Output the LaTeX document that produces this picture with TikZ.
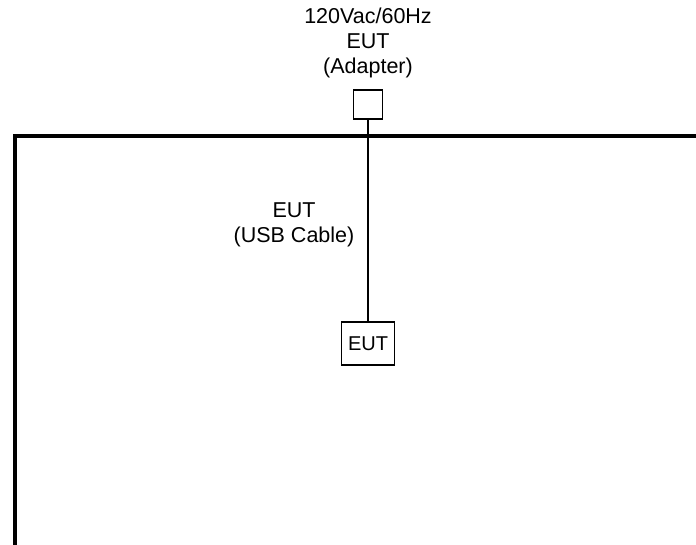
\documentclass[tikz,border=0pt]{standalone}
\usepackage{fontspec}
\setmainfont{Liberation Sans}
\usetikzlibrary{positioning}
\tikzset{
	unit/.style ={rectangle, draw=black, line width=1.6pt, inner sep=0pt, fill=white},
	lbl/.style  ={align=center, inner sep=0pt, font=\fontsize{21.5}{25}\selectfont},
	cable/.style={line width=1.5pt},
	bench/.style={line width=4.5pt, line cap=rect},
}
\begin{document}
\begin{tikzpicture}[x=1pt, y=-1pt]
	\useasboundingbox (0,0) rectangle (696,545);
	% table edge
	\begin{scope}
		\clip (0,0) rectangle (696,545);
		\draw[bench] (15,560) -- (15,136) -- (710,136);
	\end{scope}
	\node[unit, minimum width=29pt, minimum height=29pt] (adapter) at (368,104.5) {};
	\node[unit, minimum width=53pt, minimum height=43pt, font=\fontsize{20}{24}\selectfont] (eut) at (368,343.5) {EUT};
	\draw[cable] (adapter) -- (eut);
	\node[lbl] (src) at (368,43) {120Vac/60Hz\\EUT\\(Adapter)};
	\node[lbl] (usb) at (294,224.5) {EUT\\(USB Cable)};
\end{tikzpicture}
\end{document}
